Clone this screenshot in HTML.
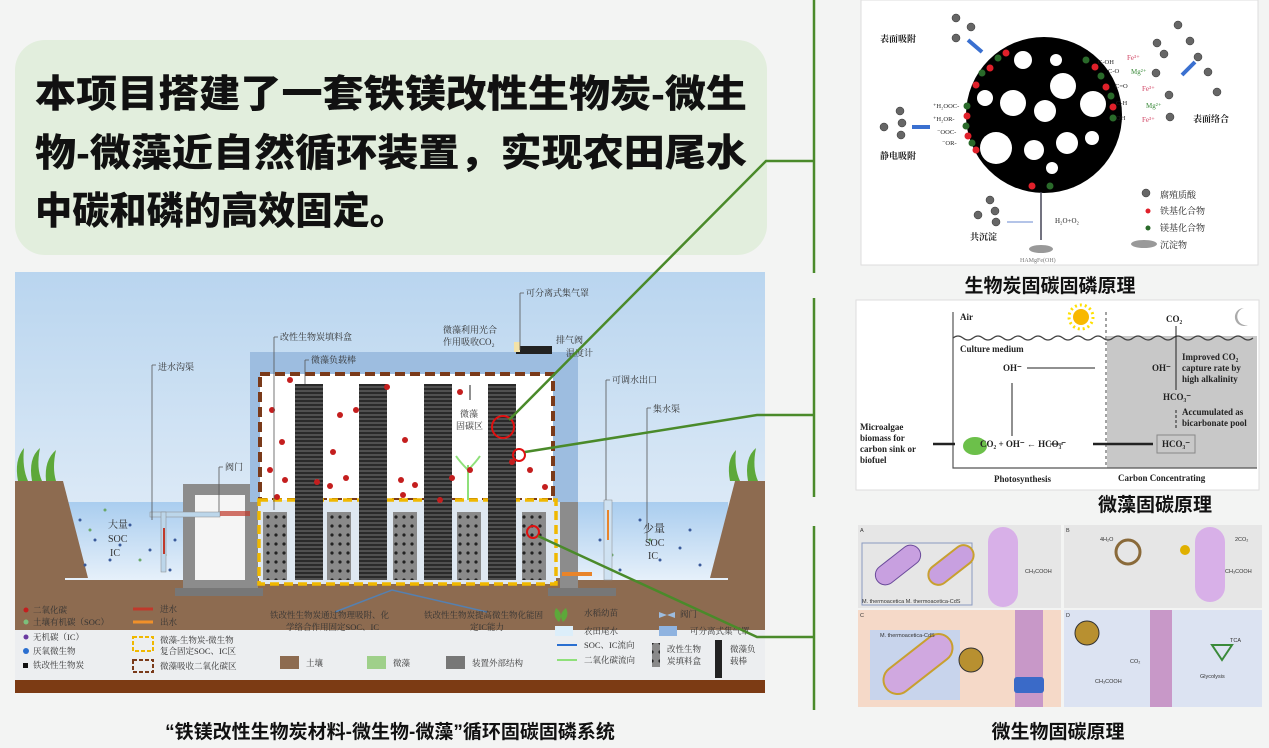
<!DOCTYPE html>
<html><head><meta charset="utf-8"><style>
html,body{margin:0;padding:0;background:#f3f4f3;}
svg{display:block;font-family:"Liberation Sans","Noto Sans CJK SC",sans-serif;}
.s{font-family:"Liberation Serif","Noto Serif CJK SC",serif;}
</style></head><body>
<svg width="1269" height="748" viewBox="0 0 1269 748" xmlns="http://www.w3.org/2000/svg">
<defs>
<linearGradient id="sky" x1="0" y1="0" x2="0" y2="1"><stop offset="0" stop-color="#b9d5ef"/><stop offset="1" stop-color="#eef4fa"/></linearGradient>
<linearGradient id="wat" x1="0" y1="0" x2="0" y2="1"><stop offset="0" stop-color="#a9cdef"/><stop offset="1" stop-color="#e6f0fa"/></linearGradient>
<pattern id="rod" width="28" height="4" patternUnits="userSpaceOnUse"><rect width="28" height="4" fill="#2a2a2a"/><rect y="2.5" width="28" height="1" fill="#777"/></pattern>
<pattern id="holes" width="8" height="9" patternUnits="userSpaceOnUse"><rect width="8" height="9" fill="#8a8a8a"/><circle cx="4" cy="4" r="1.6" fill="#222"/></pattern>
</defs>
<rect width="1269" height="748" fill="#f3f4f3"/>
<rect x="15" y="40" width="752" height="215" rx="30" fill="#e2eedd"/>
<g font-weight="900" font-size="38" fill="#111">
<text x="35" y="107" textLength="712" lengthAdjust="spacingAndGlyphs">本项目搭建了一套铁镁改性生物炭-微生</text>
<text x="35" y="166" textLength="712" lengthAdjust="spacingAndGlyphs">物-微藻近自然循环装置，实现农田尾水</text>
<text x="35" y="224" textLength="372" lengthAdjust="spacingAndGlyphs">中碳和磷的高效固定。</text>
</g>

<rect x="15" y="272" width="750" height="360" fill="url(#sky)"/>
<rect x="15" y="578" width="750" height="52" fill="#8d6b50"/>
<rect x="15" y="630" width="750" height="50" fill="#eceef0"/>
<rect x="15" y="680" width="750" height="13" fill="#7c3b14"/>
<rect x="65" y="502" width="120" height="78" fill="url(#wat)"/>
<rect x="578" y="502" width="150" height="78" fill="url(#wat)"/>
<polygon points="15,481 63,481 88,578 15,578" fill="#8d6b50"/>
<polygon points="765,481 735,481 710,578 765,578" fill="#8d6b50"/>
<g fill="#5da83a"><path d="M18,481 Q14,460 24,448 Q22,468 28,481Z"/><path d="M32,481 Q28,458 40,448 Q36,468 42,481Z"/><path d="M46,481 Q44,460 56,450 Q52,468 56,481Z"/>
<path d="M730,481 Q726,460 736,450 Q734,468 740,481Z"/><path d="M748,481 Q744,458 756,448 Q752,468 758,481Z"/></g>
<g fill="#3a5a9a">
<circle cx="80" cy="520" r="1.5"/><circle cx="95" cy="540" r="1.5"/><circle cx="110" cy="560" r="1.5"/><circle cx="130" cy="525" r="1.5"/><circle cx="150" cy="550" r="1.5"/><circle cx="170" cy="570" r="1.5"/><circle cx="85" cy="565" r="1.5"/><circle cx="120" cy="545" r="1.5"/><circle cx="160" cy="515" r="1.5"/><circle cx="175" cy="540" r="1.5"/>
<circle cx="600" cy="540" r="1.5"/><circle cx="640" cy="520" r="1.5"/><circle cx="660" cy="560" r="1.5"/><circle cx="690" cy="530" r="1.5"/><circle cx="700" cy="565" r="1.5"/><circle cx="620" cy="570" r="1.5"/><circle cx="680" cy="548" r="1.5"/></g>
<g fill="#6aa86a"><circle cx="90" cy="530" r="1.5"/><circle cx="140" cy="560" r="1.5"/><circle cx="105" cy="510" r="1.5"/><circle cx="165" cy="555" r="1.5"/><circle cx="650" cy="540" r="1.5"/><circle cx="612" cy="555" r="1.5"/></g>
<rect x="183" y="484" width="75" height="104" fill="#8c8c8c"/>
<rect x="195" y="495" width="50" height="85" fill="#f5f5f5"/>
<rect x="175" y="588" width="88" height="8" fill="#777"/>
<rect x="150" y="512" width="70" height="5" fill="#bcd6ea" stroke="#888" stroke-width="0.5"/>
<rect x="161" y="512" width="5" height="60" fill="#bcd6ea" stroke="#888" stroke-width="0.5"/>
<rect x="163" y="528" width="2" height="26" fill="#c0392b"/>
<rect x="220" y="511" width="30" height="5" fill="#c0392b" opacity="0.7"/>
<rect x="560" y="480" width="18" height="110" fill="#8c8c8c"/>
<rect x="548" y="588" width="68" height="8" fill="#777"/>
<rect x="604" y="500" width="8" height="80" fill="#cfe2f2" stroke="#888" stroke-width="0.5"/>
<rect x="607" y="510" width="2" height="30" fill="#e8842a"/>
<rect x="562" y="572" width="30" height="4" fill="#e8842a"/>
<rect x="250" y="352" width="328" height="150" fill="#9dbde0"/>
<rect x="260" y="374" width="293" height="126" fill="#fff" stroke="#7a3a1a" stroke-width="4" stroke-dasharray="10,5"/>
<rect x="516" y="346" width="36" height="8" fill="#222"/>
<rect x="514" y="342" width="6" height="10" fill="#f3e2a8"/>
<rect x="259" y="500" width="297" height="84" fill="#dfe8f1" stroke="#f0b800" stroke-width="3.5" stroke-dasharray="9,5"/>
<g fill="url(#holes)">
<rect x="263" y="512" width="24" height="68"/><rect x="327" y="512" width="24" height="68"/><rect x="393" y="512" width="24" height="68"/><rect x="457" y="512" width="24" height="68"/><rect x="522" y="512" width="24" height="68"/></g>
<g fill="url(#rod)">
<rect x="295" y="384" width="28" height="196"/><rect x="359" y="384" width="28" height="196"/><rect x="424" y="384" width="28" height="196"/><rect x="488" y="384" width="28" height="196"/></g>
<path d="M468,500 L468,465 M468,470 Q460,462 456,456 M468,470 Q476,462 480,456" stroke="#8fe07a" stroke-width="2" fill="none"/>
<g fill="#c41e1e">
<circle cx="290" cy="380" r="3"/><circle cx="272" cy="410" r="3"/><circle cx="282" cy="442" r="3"/><circle cx="270" cy="470" r="3"/><circle cx="285" cy="480" r="3"/><circle cx="277" cy="497" r="3"/><circle cx="340" cy="415" r="3"/><circle cx="333" cy="452" r="3"/><circle cx="330" cy="486" r="3"/><circle cx="346" cy="478" r="3"/><circle cx="405" cy="440" r="3"/><circle cx="401" cy="480" r="3"/><circle cx="415" cy="485" r="3"/><circle cx="403" cy="495" r="3"/><circle cx="356" cy="410" r="3"/><circle cx="387" cy="387" r="3"/><circle cx="460" cy="392" r="3"/><circle cx="452" cy="478" r="3"/><circle cx="470" cy="470" r="3"/><circle cx="530" cy="470" r="3"/><circle cx="545" cy="487" r="3"/><circle cx="512" cy="462" r="3"/><circle cx="440" cy="500" r="3"/><circle cx="317" cy="482" r="3"/></g>
<g fill="none" stroke="#e01010" stroke-width="2"><circle cx="503" cy="427" r="11"/><circle cx="519" cy="455" r="6"/><circle cx="533" cy="532" r="6"/></g>
<g stroke="#555" stroke-width="0.8" fill="none">
<path d="M152,365 V520 M152,365 h4"/><path d="M274,337 V510 M274,337 h4"/><path d="M305,360 V384 M305,360 h4"/><path d="M520,293 V350 M520,293 h4"/><path d="M219,467 V512 M219,467 h4"/><path d="M606,380 V500 M606,380 h4"/><path d="M647,408 V540 M647,408 h4"/></g>
<path d="M470,400 V385" stroke="#222" stroke-width="1"/>
<g class="s" font-size="9" fill="#333">
<text x="158" y="370">进水沟渠</text><text x="280" y="340">改性生物炭填料盒</text><text x="311" y="363">微藻负载棒</text>
<text x="443" y="333">微藻利用光合</text><text x="443" y="345">作用吸收CO₂</text><text x="526" y="296">可分离式集气罩</text>
<text x="556" y="343">排气阀</text><text x="566" y="356">温度计</text><text x="225" y="470">阀门</text>
<text x="612" y="383">可调水出口</text><text x="653" y="412">集水渠</text>
<text x="460" y="417">微藻</text><text x="456" y="429">固碳区</text>
<text x="108" y="528" font-size="10">大量</text><text x="108" y="542" font-size="10">SOC</text><text x="110" y="556" font-size="10">IC</text>
<text x="643" y="532" font-size="11">少量</text><text x="645" y="546" font-size="10">SOC</text><text x="648" y="559" font-size="10">IC</text>
</g>
<path d="M335,612 L392,590 L487,612" stroke="#5580b0" stroke-width="1.5" fill="none"/>
<g class="s" font-size="8.5" fill="#333">
<circle cx="26" cy="610" r="2.5" fill="#c41e1e"/><text x="33" y="613">二氧化碳</text>
<circle cx="26" cy="622" r="2.5" fill="#7cc07c"/><text x="33" y="625">土壤有机碳（SOC）</text>
<circle cx="26" cy="637" r="2.5" fill="#6a3aa0"/><text x="33" y="640">无机碳（IC）</text>
<circle cx="26" cy="651" r="3" fill="#2a6fd0"/><text x="33" y="654">厌氧微生物</text>
<rect x="23" y="663" width="5" height="5" fill="#111"/><text x="33" y="668">铁改性生物炭</text>
<path d="M133,609 h20" stroke="#c0392b" stroke-width="3"/><text x="160" y="612">进水</text>
<path d="M133,622 h20" stroke="#f0902a" stroke-width="3"/><text x="160" y="625">出水</text>
<rect x="133" y="637" width="20" height="14" fill="none" stroke="#f0b800" stroke-width="2" stroke-dasharray="4,2"/><text x="160" y="643">微藻-生物炭-微生物</text><text x="160" y="654">复合固定SOC、IC区</text>
<rect x="133" y="660" width="20" height="12" fill="none" stroke="#7a3a1a" stroke-width="2" stroke-dasharray="4,2"/><text x="160" y="669">微藻吸收二氧化碳区</text>
<text x="270" y="618">铁改性生物炭通过物理吸附、化</text><text x="286" y="630">学络合作用固定SOC、IC</text>
<text x="424" y="618">铁改性生物炭提高微生物化能固</text><text x="470" y="630">定IC能力</text>
<rect x="280" y="656" width="19" height="13" fill="#8d6b50"/><text x="306" y="666">土壤</text>
<rect x="367" y="656" width="19" height="13" fill="#9fd08a"/><text x="393" y="666">微藻</text>
<rect x="446" y="656" width="19" height="13" fill="#777"/><text x="472" y="666">装置外部结构</text>
<path d="M556,608 q-4,8 3,14 q5,-8 -3,-14z M566,608 q4,8 -3,14 q-5,-8 3,-14z" fill="#5da83a"/><text x="584" y="616">水稻幼苗</text>
<rect x="555" y="626" width="18" height="10" fill="#dceefa"/><text x="584" y="634">农田尾水</text>
<path d="M557,645 h20" stroke="#2a6fd0" stroke-width="2"/><text x="584" y="648">SOC、IC流向</text>
<path d="M557,660 h20" stroke="#8fe07a" stroke-width="2"/><text x="584" y="663">二氧化碳流向</text>
<path d="M659,612 l8,3 l-8,3z M675,612 l-8,3 l8,3z" fill="#9dbde0"/><text x="680" y="617">阀门</text>
<rect x="659" y="626" width="18" height="10" fill="#8fb3e0"/><text x="690" y="634">可分离式集气罩</text>
<rect x="652" y="643" width="8" height="24" fill="url(#holes)"/><text x="667" y="652">改性生物</text><text x="667" y="664">炭填料盒</text>
<rect x="715" y="640" width="7" height="38" fill="#222"/><text x="730" y="652">微藻负</text><text x="730" y="664">载棒</text>
</g>
<text x="390" y="738" text-anchor="middle" font-size="19" font-weight="bold" fill="#111">“铁镁改性生物炭材料-微生物-微藻”循环固碳固磷系统</text>

<g stroke="#4a8a2a" stroke-width="2.5" fill="none">
<path d="M814,0 V273"/><path d="M814,298 V497"/><path d="M814,526 V710"/>
<path d="M509,420 L766,161 H814"/>
<path d="M525,452 L757,415 H814"/>
<path d="M538,536 L757,637 H814"/>
</g>

<rect x="861" y="0" width="397" height="265" fill="#fff" stroke="#ddd"/>
<circle cx="1044" cy="115" r="78" fill="#000"/>
<g fill="#fff">
<circle cx="1023" cy="60" r="9"/><circle cx="1056" cy="60" r="6"/><circle cx="1063" cy="86" r="13"/><circle cx="985" cy="98" r="8"/><circle cx="1013" cy="103" r="13"/><circle cx="1045" cy="111" r="11"/><circle cx="1093" cy="104" r="13"/><circle cx="996" cy="148" r="16"/><circle cx="1034" cy="150" r="10"/><circle cx="1067" cy="143" r="11"/><circle cx="1092" cy="138" r="7"/><circle cx="1052" cy="168" r="6"/></g>
<g fill="#e0202a"><circle cx="1006" cy="53" r="3.5"/><circle cx="990" cy="68" r="3.5"/><circle cx="976" cy="85" r="3.5"/><circle cx="967" cy="116" r="3.5"/><circle cx="968" cy="136" r="3.5"/><circle cx="976" cy="150" r="3.5"/><circle cx="1095" cy="67" r="3.5"/><circle cx="1106" cy="87" r="3.5"/><circle cx="1113" cy="107" r="3.5"/><circle cx="1032" cy="186" r="3.5"/></g>
<g fill="#2a6a2a"><circle cx="998" cy="58" r="3.5"/><circle cx="982" cy="73" r="3.5"/><circle cx="967" cy="106" r="3.5"/><circle cx="966" cy="126" r="3.5"/><circle cx="972" cy="143" r="3.5"/><circle cx="1086" cy="60" r="3.5"/><circle cx="1101" cy="76" r="3.5"/><circle cx="1111" cy="96" r="3.5"/><circle cx="1113" cy="118" r="3.5"/><circle cx="1050" cy="186" r="3.5"/></g>
<g fill="#666" stroke="#333" stroke-width="0.5">
<circle cx="956" cy="18" r="4"/><circle cx="971" cy="27" r="4"/><circle cx="956" cy="38" r="4"/><circle cx="1178" cy="25" r="4"/><circle cx="1190" cy="41" r="4"/><circle cx="1157" cy="43" r="4"/><circle cx="1164" cy="54" r="4"/><circle cx="1198" cy="57" r="4"/><circle cx="1208" cy="72" r="4"/><circle cx="1156" cy="73" r="4"/><circle cx="1217" cy="92" r="4"/><circle cx="1169" cy="95" r="4"/><circle cx="1170" cy="117" r="4"/><circle cx="900" cy="111" r="4"/><circle cx="884" cy="127" r="4"/><circle cx="902" cy="123" r="4"/><circle cx="901" cy="135" r="4"/><circle cx="990" cy="200" r="4"/><circle cx="995" cy="211" r="4"/><circle cx="978" cy="215" r="4"/><circle cx="996" cy="222" r="4"/><circle cx="1146" cy="193" r="4"/></g>
<path d="M968,40 L982,52" stroke="#3a70d0" stroke-width="4"/><path d="M1195,62 L1182,75" stroke="#3a70d0" stroke-width="4"/><path d="M912,127 h18" stroke="#3a70d0" stroke-width="4"/>
<path d="M1007,222 h26" stroke="#6a8ad0" stroke-width="1"/>
<path d="M1041,192 V240" stroke="#445" stroke-width="1.5"/>
<ellipse cx="1041" cy="249" rx="12" ry="4" fill="#999"/>
<ellipse cx="1144" cy="244" rx="13" ry="4" fill="#999"/>
<circle cx="1148" cy="211" r="2.5" fill="#e0202a"/><circle cx="1148" cy="228" r="2.5" fill="#2a6a2a"/>
<g class="s" font-size="9" fill="#222">
<text x="880" y="42" font-weight="bold">表面吸附</text><text x="1193" y="122" font-weight="bold">表面络合</text><text x="880" y="159" font-weight="bold">静电吸附</text><text x="970" y="240" font-weight="bold">共沉淀</text>
<text x="1055" y="223" font-size="7">H₂O+O₂</text><text x="1020" y="262" font-size="6" fill="#777">HAMgFe(OH)</text>
<text x="1160" y="198">腐殖质酸</text><text x="1160" y="214">铁基化合物</text><text x="1160" y="231">镁基化合物</text><text x="1160" y="248">沉淀物</text>
<text x="933" y="108" font-size="6.5">⁺H₂OOC-</text><text x="933" y="121" font-size="6.5">⁺H₂OR-</text><text x="937" y="134" font-size="6.5">⁻OOC-</text><text x="942" y="145" font-size="6.5">⁻OR-</text>
<text x="1098" y="64" font-size="6.5">C-OH</text><text x="1108" y="73" font-size="6.5">C-O</text><text x="1115" y="88" font-size="6.5">C=O</text><text x="1116" y="105" font-size="6.5">C-H</text><text x="1116" y="120" font-size="6.5">OH</text>
<text x="1127" y="60" font-size="7" fill="#d04060">Fe³⁺</text><text x="1131" y="74" font-size="7" fill="#3a8a3a">Mg²⁺</text><text x="1142" y="91" font-size="7" fill="#d04060">Fe³⁺</text><text x="1146" y="108" font-size="7" fill="#3a8a3a">Mg²⁺</text><text x="1142" y="122" font-size="7" fill="#d04060">Fe³⁺</text>
</g>
<text x="1050" y="292" text-anchor="middle" font-size="19" font-weight="bold" fill="#111">生物炭固碳固磷原理</text>

<rect x="856" y="300" width="403" height="190" fill="#fff" stroke="#ddd"/>
<rect x="1107" y="336" width="150" height="132" fill="#c8c8c8"/>
<path d="M953,312 V468 H1257" stroke="#555" stroke-width="1.2" fill="none"/>
<path d="M953,338 q5,-4 10,0 t10,0 t10,0 t10,0 t10,0 t10,0 t10,0 t10,0 t10,0 t10,0 t10,0 t10,0 t10,0 t10,0 t10,0 t10,0 t10,0 t10,0 t10,0 t10,0 t10,0 t10,0 t10,0 t10,0 t10,0 t10,0 t10,0 t10,0 t10,0 t10,0" stroke="#444" stroke-width="1.2" fill="none"/>
<path d="M1106,312 V468" stroke="#444" stroke-dasharray="3,3"/>
<circle cx="1081" cy="317" r="8" fill="#f8b800"/><circle cx="1081" cy="317" r="12" fill="none" stroke="#ffe000" stroke-width="3" stroke-dasharray="2,3"/>
<path d="M1244,308 a9,9 0 1,0 4,17 a7,7 0 1,1 -4,-17z" fill="#aaa"/>
<g stroke="#222" stroke-width="1" fill="none"><path d="M1027,368 h68"/><path d="M1012,436 V383"/><path d="M1176,326 V390"/><path d="M1176,410 V430" stroke-dasharray="3,2"/><path d="M1153,444 h-60" stroke-width="2.5"/><path d="M1063,444 h-13"/><path d="M955,444 h-22" stroke-width="2.5"/></g>
<rect x="1157" y="435" width="38" height="18" fill="none" stroke="#888"/>
<ellipse cx="975" cy="446" rx="12" ry="9" fill="#6cc04a"/>
<g class="s" font-size="9" font-weight="bold" fill="#222">
<text x="960" y="320">Air</text><text x="1166" y="322">CO₂</text><text x="960" y="352">Culture medium</text>
<text x="1003" y="371">OH⁻</text><text x="1152" y="371">OH⁻</text>
<text x="1182" y="360">Improved CO₂</text><text x="1182" y="371">capture rate by</text><text x="1182" y="382">high alkalinity</text>
<text x="1163" y="400">HCO₃⁻</text><text x="1182" y="415">Accumulated as</text><text x="1182" y="426">bicarbonate pool</text>
<text x="1162" y="447">HCO₃⁻</text><text x="980" y="447">CO₂ + OH⁻ ← HCO₃⁻</text>
<text x="860" y="430">Microalgae</text><text x="860" y="441">biomass for</text><text x="860" y="452">carbon sink or</text><text x="860" y="463">biofuel</text>
<text x="994" y="482">Photosynthesis</text><text x="1118" y="481">Carbon Concentrating</text>
</g>
<text x="1155" y="511" text-anchor="middle" font-size="19" font-weight="bold" fill="#111">微藻固碳原理</text>

<rect x="858" y="525" width="203" height="83" fill="#e6e6e6"/>
<rect x="1064" y="525" width="198" height="83" fill="#e6e6e6"/>
<rect x="858" y="610" width="203" height="97" fill="#f5d9c8"/>
<rect x="1064" y="610" width="198" height="97" fill="#dce3f2"/>
<rect x="862" y="543" width="110" height="62" fill="none" stroke="#8a9ac0"/>
<rect x="872" y="555" width="52" height="20" rx="10" transform="rotate(-38 898 565)" fill="#c8a0e0" stroke="#6a4a9a"/>
<rect x="925" y="555" width="52" height="20" rx="10" transform="rotate(-38 951 565)" fill="#c8a0e0" stroke="#c8a030" stroke-width="2"/>
<rect x="988" y="527" width="30" height="80" rx="15" fill="#d8b0e8"/>
<rect x="1195" y="527" width="30" height="75" rx="15" fill="#d8b0e8"/>
<circle cx="1128" cy="552" r="12" fill="none" stroke="#8a6a3a" stroke-width="3"/>
<circle cx="1185" cy="550" r="5" fill="#e0b000"/>
<rect x="870" y="630" width="90" height="70" fill="#c8d4ec"/>
<rect x="878" y="650" width="80" height="28" rx="14" transform="rotate(-38 918 664)" fill="#d0a8e0" stroke="#c8a030" stroke-width="2"/>
<rect x="1015" y="610" width="28" height="97" fill="#c898c8"/>
<rect x="1150" y="610" width="22" height="97" fill="#c898c8"/>
<rect x="1014" y="677" width="30" height="16" rx="3" fill="#3a6ac8"/>
<circle cx="971" cy="660" r="12" fill="#b89030" stroke="#333"/>
<circle cx="1087" cy="633" r="12" fill="#b89030" stroke="#333"/>
<path d="M1212,645 L1232,645 L1222,660z" fill="none" stroke="#3a8a3a" stroke-width="2"/>
<g font-size="5.5" fill="#333"><text x="860" y="532">A</text><text x="1066" y="532">B</text><text x="860" y="617">C</text><text x="1066" y="617">D</text>
<text x="862" y="603">M. thermoacetica  M. thermoacetica-CdS</text><text x="1025" y="573">CH₃COOH</text><text x="1225" y="573">CH₃COOH</text><text x="1100" y="541">4H₂O</text><text x="1235" y="541">2CO₂</text><text x="880" y="637">M. thermoacetica-CdS</text><text x="1130" y="663">CO₂</text><text x="1095" y="683">CH₃COOH</text><text x="1200" y="678">Glycolysis</text><text x="1230" y="642">TCA</text></g>
<text x="1058" y="738" text-anchor="middle" font-size="19" font-weight="bold" fill="#111">微生物固碳原理</text>
</svg>
</body></html>
